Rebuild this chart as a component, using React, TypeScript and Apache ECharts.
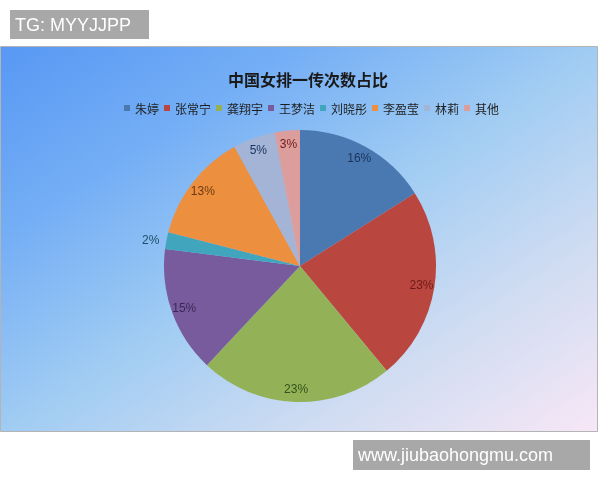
import React, { useEffect, useRef } from 'react';
import * as echarts from 'echarts';

// 数据
const players = ['朱婷', '张常宁', '龚翔宇', '王梦洁', '刘晓彤', '李盈莹', '林莉', '其他'];
const shares = [16, 23, 23, 15, 2, 13, 5, 3];
const sliceColors = ['#4a78b0', '#b9463f', '#93b156', '#785b9c', '#41a5bd', '#ec903f', '#a4b4d6', '#dc9e9d'];
const labelColors = ['#1c3560', '#6e1a18', '#34521a', '#3a2858', '#1d4f66', '#6e3a0e', '#1c3560', '#6e1a18'];

const App: React.FC = () => {
  const chartRef = useRef<HTMLDivElement>(null);

  useEffect(() => {
    if (!chartRef.current) return;
    const chart = echarts.init(chartRef.current, undefined, { renderer: 'svg' });

    chart.setOption({
      animation: false,
      title: {
        text: '中国女排一传次数占比',
        left: 223,
        top: 66,
        textStyle: {
          fontFamily: 'Noto Sans CJK SC',
          fontSize: 16,
          fontWeight: 'bold',
          color: '#1a1a1a'
        }
      },
      legend: {
        data: players,
        left: 119,
        top: 97,
        icon: 'rect',
        itemWidth: 6,
        itemHeight: 6,
        itemGap: 5,
        textStyle: {
          fontFamily: 'Noto Sans CJK SC',
          fontSize: 12,
          color: '#1e1e1e'
        }
      },
      graphic: [
        {
          type: 'rect',
          z: -10,
          shape: { x: 0.5, y: 46.5, width: 597, height: 385 },
          style: {
            fill: new echarts.graphic.LinearGradient(0, 0, 1, 1, [
              { offset: 0, color: '#5898f4' },
              { offset: 0.25, color: '#74aef5' },
              { offset: 0.5, color: '#a0ccf3' },
              { offset: 0.75, color: '#cfdcf2' },
              { offset: 1, color: '#f7e7f6' }
            ]),
            stroke: '#b4b4b4',
            lineWidth: 1
          }
        },
        {
          type: 'rect',
          shape: { x: 10, y: 10, width: 139, height: 29 },
          style: { fill: '#a8a8a8' }
        },
        {
          type: 'text',
          x: 15,
          y: 25,
          style: {
            text: 'TG: MYYJJPP',
            fill: '#ffffff',
            font: '18px "Liberation Sans", Arial, sans-serif',
            verticalAlign: 'middle'
          }
        },
        {
          type: 'rect',
          shape: { x: 353, y: 440, width: 237, height: 30 },
          style: { fill: '#a8a8a8' }
        },
        {
          type: 'text',
          x: 358,
          y: 455,
          style: {
            text: 'www.jiubaohongmu.com',
            fill: '#ffffff',
            font: '18px "Liberation Sans", Arial, sans-serif',
            verticalAlign: 'middle'
          }
        }
      ],
      series: [
        {
          name: '一传次数',
          type: 'pie',
          center: [300, 266],
          radius: 136,
          startAngle: 90,
          clockwise: true,
          label: { show: false },
          labelLine: { show: false },
          data: players.map((name, i) => ({
            name,
            value: shares[i],
            itemStyle: { color: sliceColors[i] }
          }))
        },
        {
          name: '标签',
          type: 'pie',
          center: [300, 266],
          radius: [104, 136],
          startAngle: 90,
          clockwise: true,
          silent: true,
          emphasis: { disabled: true },
          itemStyle: { color: 'rgba(0,0,0,0)' },
          label: {
            show: true,
            position: 'inside',
            formatter: '{c}%',
            fontFamily: '"Liberation Sans", Arial, sans-serif',
            fontSize: 12
          },
          labelLine: { show: false },
          data: players.map((name, i) => ({
            name,
            value: shares[i],
            label: i === 4
              ? { position: 'outside', color: labelColors[i] }
              : { color: labelColors[i] },
            labelLine: { show: false, length: 2, length2: 0 }
          }))
        }
      ]
    });

    return () => {
      chart.dispose();
    };
  }, []);

  return (
    <div
      ref={chartRef}
      style={{ width: 600, height: 480, position: 'fixed', left: 0, top: 0 }}
    />
  );
};

export default App;
